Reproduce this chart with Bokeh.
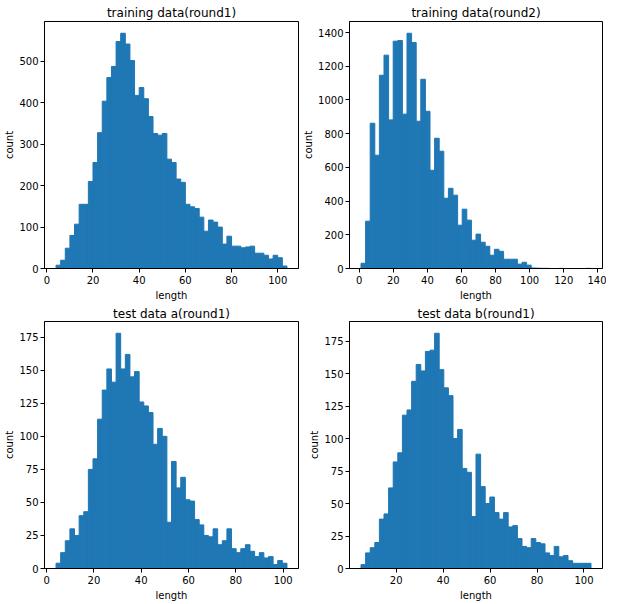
import numpy as np
from bokeh.plotting import figure
from bokeh.layouts import column, row
from bokeh.models import FixedTicker, Range1d
from bokeh.embed import file_html
from bokeh.resources import INLINE

# ---- data (histogram counts, 50 bins each, and the data range of the bins) ----
titles = ["training data(round1)", "training data(round2)", "test data a(round1)", "test data b(round1)"]

train1_counts = [8, 20, 49, 80, 107, 155, 155, 210, 256, 328,
                 404, 461, 488, 548, 568, 542, 502, 418, 437, 410,
                 367, 326, 322, 326, 264, 256, 216, 208, 155, 149,
                 145, 124, 90, 117, 112, 100, 59, 78, 54, 54,
                 50, 52, 54, 37, 37, 32, 23, 32, 26, 6]
train1_range = [4, 104]

train2_counts = [31, 281, 862, 672, 1147, 1266, 882, 1349, 1353, 916,
                 1396, 1341, 874, 1123, 933, 583, 773, 696, 417, 476,
                 435, 257, 352, 287, 168, 204, 156, 132, 79, 114,
                 102, 55, 55, 55, 26, 37, 20, 3, 2, 1,
                 1, 0, 0, 1, 0, 0, 0, 0, 0, 1]
train2_range = [1, 136]

testa_counts = [4, 12, 21, 30, 25, 40, 43, 75, 83, 113,
                135, 151, 141, 178, 151, 162, 145, 149, 126, 123,
                118, 94, 106, 100, 35, 81, 61, 69, 52, 51,
                37, 33, 25, 24, 30, 18, 21, 30, 15, 12,
                15, 18, 13, 9, 12, 8, 9, 3, 6, 4]
testa_range = [4, 101.6]

testb_counts = [3, 12, 16, 20, 38, 42, 62, 82, 89, 118,
                122, 144, 157, 152, 167, 168, 181, 153, 139, 133,
                100, 107, 77, 74, 40, 88, 63, 50, 55, 43,
                38, 43, 32, 33, 23, 17, 16, 23, 20, 19,
                12, 10, 17, 9, 10, 6, 4, 4, 4, 4]
testb_range = [5, 103]

xticks_1 = [0, 20, 40, 60, 80, 100]
xticks_2 = [0, 20, 40, 60, 80, 100, 120, 140]
xticks_4 = [20, 40, 60, 80, 100]
yticks_1 = [0, 100, 200, 300, 400, 500]
yticks_2 = [0, 200, 400, 600, 800, 1000, 1200, 1400]
yticks_3 = [0, 25, 50, 75, 100, 125, 150, 175]

x_label = "length"
y_label = "count"

BAR = "#1f77b4"
FONT = "DejaVu Sans"


def make(title, counts, rng, xticks, yticks, ml, mr, mt, mb, fw, fh, tstand):
    lo, hi = rng
    n = len(counts)
    edges = np.linspace(lo, hi, n + 1)
    span = hi - lo
    ymax = max(counts) * 1.05
    p = figure(frame_width=fw, frame_height=fh, output_backend="svg", toolbar_location=None,
               x_range=Range1d(lo - 0.05 * span, hi + 0.05 * span), y_range=Range1d(0, ymax),
               min_border_left=ml, min_border_right=mr, min_border_top=mt, min_border_bottom=mb)
    p.quad(left=edges[:-1], right=edges[1:], top=counts, bottom=0,
           fill_color=BAR, line_color=BAR, line_width=1)
    p.xgrid.visible = False
    p.ygrid.visible = False
    p.outline_line_color = "black"
    p.outline_line_alpha = 1.0
    p.outline_line_width = 1
    p.background_fill_color = "white"
    p.border_fill_color = "white"
    p.title.text = title
    p.title.align = "center"
    p.title.text_font = FONT
    p.title.text_font_size = "12px"
    p.title.text_font_style = "normal"
    p.title.text_color = "black"
    p.title.standoff = tstand
    p.title.offset = 0
    p.xaxis.ticker = FixedTicker(ticks=xticks)
    p.yaxis.ticker = FixedTicker(ticks=yticks)
    p.xaxis.axis_label = x_label
    p.yaxis.axis_label = y_label
    for ax in (p.xaxis[0], p.yaxis[0]):
        ax.axis_line_color = "black"
        ax.major_tick_line_color = "black"
        ax.major_tick_out = 4
        ax.major_tick_in = 0
        ax.minor_tick_line_color = None
        ax.major_label_text_font = FONT
        ax.major_label_text_font_size = "10px"
        ax.major_label_text_color = "black"
        ax.axis_label_text_font = FONT
        ax.axis_label_text_font_size = "10px"
        ax.axis_label_text_font_style = "normal"
        ax.axis_label_text_color = "black"
    p.xaxis[0].major_label_standoff = 3
    p.yaxis[0].major_label_standoff = 2
    p.xaxis[0].axis_label_standoff = 3
    p.yaxis[0].axis_label_standoff = 1
    return p


p1 = make(titles[0], train1_counts, train1_range, xticks_1, yticks_1, 44, 2, 21, 30, 254, 247, 4)
p2 = make(titles[1], train2_counts, train2_range, xticks_2, yticks_2, 49, 4, 21, 30, 253, 247, 4)
p3 = make(titles[2], testa_counts, testa_range, xticks_1, yticks_3, 44, 2, 18, 30, 254, 247, 2)
p4 = make(titles[3], testb_counts, testb_range, xticks_4, yticks_3, 49, 4, 18, 30, 253, 247, 2)

layout = column(row(p1, p2), row(p3, p4))

open("out.html", "w").write(file_html(layout, INLINE))
